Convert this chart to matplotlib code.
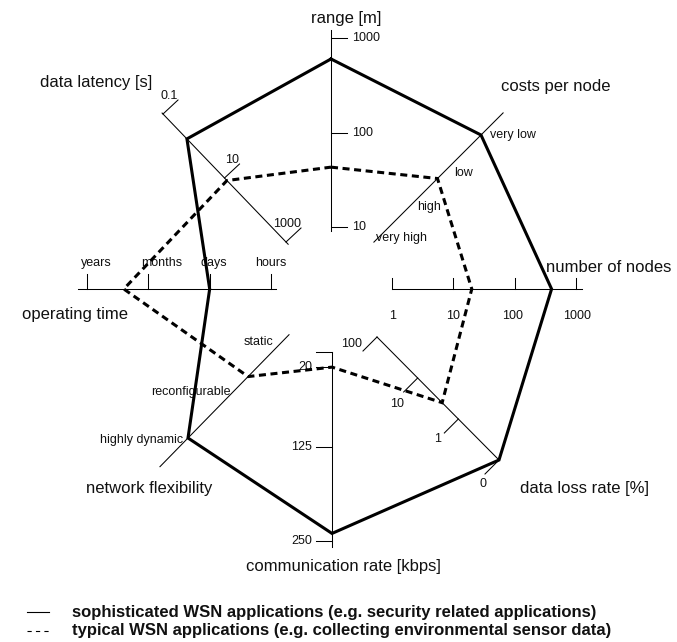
import numpy as np
import matplotlib.pyplot as plt

plt.rcParams['font.family'] = ['Liberation Sans', 'DejaVu Sans']

W, H = 677, 642

# tick values / level names of the eight axes
range_ticks = [10, 100, 1000]
cost_levels = ['very high', 'high', 'low', 'very low']
node_ticks = [1, 10, 100, 1000]
loss_ticks = [100, 10, 1, 0]
rate_ticks = [0, 20, 125, 250]
flex_levels = ['highly dynamic', 'reconfigurable', 'static']
time_levels = ['years', 'months', 'days', 'hours']
latency_ticks = [0.1, 10, 1000]

# one value per axis, clockwise from range; ordinal axes hold a level index
sophisticated = [600, 3, 400, 0, 240, 0, 2, 0.6]
typical = [43, 1.72, 20, 2.5, 20, 1.35, 0.6, 12]

series_labels = ['sophisticated WSN applications (e.g. security related applications)',
                 'typical WSN applications (e.g. collecting environmental sensor data)']


def log_u(v):
    return np.log10(v)


def level_u(v):
    return v


def loss_u(v):
    # 100 % at the inner end, 0 % at the outer end
    return 3.0 if v == 0 else 2 - np.log10(v)


# each spoke: two anchors (u, x, y) in screen pixels, drawn extent in u,
# tick direction and per-tick label offsets from the tick end
spokes = [
    dict(title='range [m]', title_xy=(346, 18), scale=log_u,
         a=(1, 331, 227), b=(3, 331, 38), span=(0.958, 3.085),
         ticks=range_ticks, labels=['10', '100', '1000'],
         tvec=(16, 0), off=[(5, 0)] * 3, ha='left'),
    dict(title='costs per node', title_xy=(556, 87), scale=level_u,
         a=(0, 379, 237), b=(3, 481, 135), span=(-0.15, 3.65),
         ticks=[0, 1, 2, 3], labels=cost_levels,
         tvec=(0, 0), off=[(-3, 1), (4, 4), (7, 4), (9, 0)], ha='left'),
    dict(title='number of nodes', title_xy=(609, 268), scale=log_u,
         a=(0, 392, 289), b=(3, 576, 289), span=(0, 3.1),
         ticks=node_ticks, labels=['1', '10', '100', '1000'],
         tvec=(0, -11), off=[(1, 38), (0, 38), (-2, 38), (1, 38)], ha='center'),
    dict(title='data loss rate [%]', title_xy=(584, 488), scale=loss_u,
         a=(0, 377, 337), b=(3, 499, 460), span=(0, 3),
         ticks=loss_ticks, labels=['100', '10', '1', '0'],
         tvec=(-14, 14), off=[(-1, -7), (0, 12), (-3, 6), (1, 10)], ha='right'),
    dict(title='communication rate [kbps]', title_xy=(343, 567), scale=level_u,
         a=(0, 332, 352), b=(250, 332, 541), span=(0, 258),
         ticks=rate_ticks, labels=['', '20', '125', '250'],
         tvec=(-16, 0), off=[(-4, 0)] * 4, ha='right'),
    dict(title='network flexibility', title_xy=(149, 488), scale=level_u,
         a=(0, 188, 438), b=(2, 277, 347), span=(-0.63, 2.27),
         ticks=[0, 1, 2], labels=flex_levels,
         tvec=(0, 0), off=[(-5, 2), (-2, 0), (-4, -5)], ha='right'),
    dict(title='operating time', title_xy=(75, 315), scale=level_u,
         a=(0, 87, 289), b=(3, 271, 289), span=(-0.15, 3.08),
         ticks=[0, 1, 2, 3], labels=time_levels,
         tvec=(0, -15), off=[(9, -11), (13, -11), (4, -11), (0, -11)], ha='center'),
    dict(title='data latency [s]', title_xy=(96, 82), scale=log_u,
         a=(-1, 163, 114), b=(3, 286, 242), span=(-1.03, 3.07),
         ticks=latency_ticks, labels=['0.1', '10', '1000'],
         tvec=(15, -14), off=[(0, -4)] * 3, ha='right'),
]


def point(sp, u):
    u0, x0, y0 = sp['a']
    u1, x1, y1 = sp['b']
    t = (u - u0) / (u1 - u0)
    return x0 + t * (x1 - x0), y0 + t * (y1 - y0)


fig = plt.figure(figsize=(W / 100, H / 100), dpi=100)
ax = fig.add_axes([0, 0, 1, 1])
ax.set_xlim(0, W)
ax.set_ylim(H, 0)
ax.axis('off')

for sp in spokes:
    p0 = point(sp, sp['span'][0])
    p1 = point(sp, sp['span'][1])
    ax.plot([p0[0], p1[0]], [p0[1], p1[1]], color='black', lw=0.75, zorder=2)
    dx, dy = sp['tvec']
    for val, lab, (ox, oy) in zip(sp['ticks'], sp['labels'], sp['off']):
        x, y = point(sp, sp['scale'](val))
        if dx or dy:
            ax.plot([x, x + dx], [y, y + dy], color='black', lw=0.75, zorder=2)
        ax.text(x + dx + ox, y + dy + oy, lab, fontsize=9, ha=sp['ha'],
                va='center', color='#111111', zorder=3)
    ax.text(*sp['title_xy'], sp['title'], fontsize=12, ha='center',
            va='center', color='#111111', zorder=3)

styles = [dict(linestyle='-'), dict(linestyle=(0, (2.3, 1.5)))]
for values, st in zip([sophisticated, typical], styles):
    pts = [point(sp, sp['scale'](v)) for sp, v in zip(spokes, values)]
    pts.append(pts[0])
    xs, ys = zip(*pts)
    ax.plot(xs, ys, color='black', lw=2.2, solid_joinstyle='miter',
            dash_joinstyle='miter', zorder=4, **st)

# legend
legend_dashes = ['-', (0, (3.8, 3.8))]
for i, (lab, ls) in enumerate(zip(series_labels, legend_dashes)):
    y = 612 + i * 19
    ax.plot([27, 49], [y, y], color='black', lw=0.8, linestyle=ls)
    ax.text(72, y, lab, fontsize=12, fontweight='bold', ha='left',
            va='center', color='#111111')

fig.savefig('out.png', dpi=100)
